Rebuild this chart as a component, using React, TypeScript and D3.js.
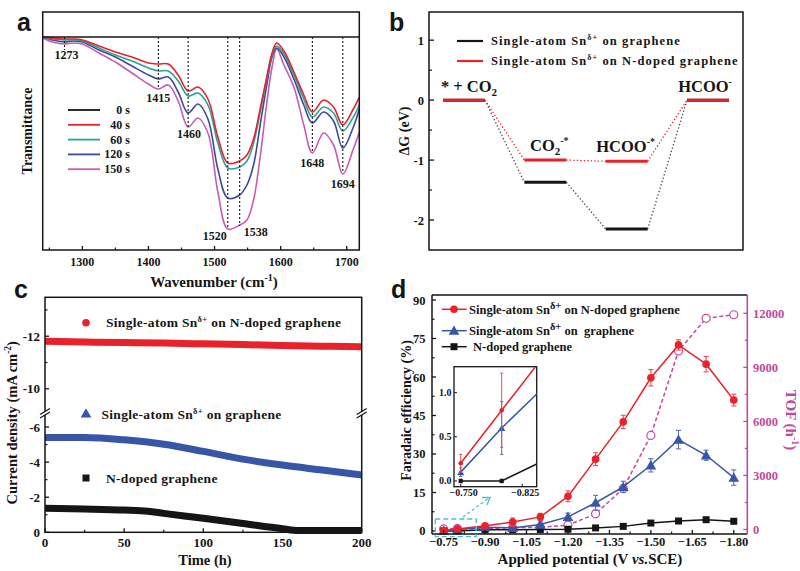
import React from "react";
import * as d3 from "d3";

// ---------------- Panel a: in-situ IR spectra ----------------
const wavenumbers = [1240,1255,1273,1285,1300,1325,1350,1375,1400,1415,1430,1445,1460,1475,1490,1505,1520,1538,1549,1559,1569,1579,1587,1594,1605,1620,1635,1648,1665,1680,1694,1710,1719];
const trans40s = [0,-1,-2,-2,-3,-9,-15,-20,-26,-27,-27,-38,-54,-50,-62,-100,-126,-124,-118,-102,-72,-40,-16,-6,-14,-35,-58,-75,-63,-70,-88,-72,-60];
const trans60s = [0,-2,-3,-3,-4,-11,-18,-24,-31,-34,-34,-44,-59,-56,-68,-106,-131,-130,-124,-106,-75,-42,-18,-9,-17,-38,-62,-80,-70,-76,-94,-80,-68];
const trans120s = [0,-3,-5,-4,-5,-13,-20,-29,-38,-42,-40,-55,-76,-67,-82,-132,-161,-158,-148,-128,-88,-48,-20,-11,-20,-42,-68,-86,-75,-84,-111,-90,-72];
const trans150s = [-1,-5,-7,-6,-7,-16,-25,-36,-47,-52,-48,-64,-90,-81,-96,-155,-192,-188,-183,-163,-120,-66,-30,-12,-28,-50,-88,-116,-96,-108,-137,-112,-95];
const wavenumbers0s = [1240, 1719];
const trans0s = [0, 0];
const spectraLabels = ["0 s", "40 s", "60 s", "120 s", "150 s"];
const peakWavenumbers = [1273, 1415, 1460, 1520, 1538, 1648, 1694];
const peakDepths = [-13, -51, -90, -191, -189, -116, -136];
const aTicks = [1300, 1400, 1500, 1600, 1700];

// ---------------- Panel b: free energy diagram ----------------
const bStates = ["IS", "CO2*", "HCOO*", "FS"];
const dGgraphene = [0, -1.37, -2.15, 0];
const dGNdoped = [0, -1.0, -1.02, 0];
const bTicks = [1, 0, -1, -2];
const bMinorTicks = [0.5, -0.5, -1.5];

// ---------------- Panel c: stability ----------------
const cTimeRed = [0, 25, 50, 75, 100, 125, 150, 175, 200];
const cRed = [-11.81, -11.78, -11.76, -11.74, -11.71, -11.68, -11.65, -11.62, -11.6];
const cTimeBlue = [0, 25, 50, 75, 100, 125, 150, 175, 200];
const cBlue = [-5.4, -5.4, -5.27, -5.02, -4.61, -4.17, -3.83, -3.55, -3.27];
const cTimeBlack = [0, 25, 50, 65, 75, 100, 125, 150, 160, 175, 200];
const cBlack = [-1.37, -1.33, -1.27, -1.2, -1.08, -0.8, -0.5, -0.2, -0.1, -0.1, -0.1];
const cTicksX = [0, 50, 100, 150, 200];
const cTicksLow = [0, -2, -4, -6];
const cTicksHigh = [-10, -12];

// ---------------- Panel d: Faradaic efficiency & TOF ----------------
const potentials = [-0.75, -0.8, -0.9, -1.0, -1.1, -1.2, -1.3, -1.4, -1.5, -1.6, -1.7, -1.8];
const feSnN = [0.2, 0.8, 2.0, 3.5, 5.5, 13.5, 28, 42.5, 59.7, 72.5, 65, 51];
const feSnNErr = [0.1, 0.42, 0.8, 1.6, 1.4, 2.1, 2.5, 2.6, 3.2, 2.0, 3.0, 2.3];
const feSn = [0.1, 0.6, 1.5, 1.2, 2.5, 5.5, 11, 17.2, 25.6, 35.6, 29.5, 20.8];
const feSnErr = [0.05, 0.3, 0.6, 0.8, 1.0, 1.5, 2.9, 2.2, 2.6, 3.6, 2.0, 3.0];
const feN = [0, 0, 0.45, 0.5, 0.6, 0.7, 1.2, 1.8, 3.1, 3.9, 4.4, 3.8];
const feNErr = [0.02, 0.02, 0.3, 0.3, 0.3, 0.3, 0.3, 0.4, 0.5, 0.6, 0.8, 1.0];
const tof = [30, 50, 40, 100, 130, 240, 870, 2270, 5220, 9910, 11720, 11920];
const dTicksX = [-0.75, -0.9, -1.05, -1.2, -1.35, -1.5, -1.65, -1.8];
const dTicksL = [0, 15, 30, 45, 60, 75, 90];
const dTicksR = [0, 3000, 6000, 9000, 12000];
const insetTicksX = [-0.75, -0.825];
const insetTicksY = [0, 0.5, 1.0];

// ---------------- styles ----------------
const SERIF = "'Liberation Serif','Times New Roman',serif";
const SANS = "'Liberation Sans',Arial,sans-serif";
const INK = "#151515";
const RED = "#e8212b";
const TEAL = "#2aa39b";
const NAVY = "#3b4b95";
const ORCHID = "#c65db3";
const BLUE = "#3856a8";
const MAGENTA = "#c2489c";
const CYAN = "#4dbfcf";

const A = { x0: 42.7, x1: 359.3, y0: 12, y1: 250 };
const B = { x0: 429, x1: 743, y0: 12, y1: 250 };
const C = { x0: 45, x1: 361.7, y0: 297.3, y1: 532.3, yBreak: 413.5 };
const D = { x0: 432, x1: 747.3, y0: 295, y1: 534 };
const IN = { x0: 454, x1: 536.7, y0: 366.7, y1: 486.7 };

const peakLabelOffsets = [[2, 9], [0, 14], [1, 11], [-13, 12], [16, 10], [0, 14], [0, 15]];

export default function App() {
  // ---- panel a ----
  const ax = d3.scaleLinear().domain([1240, 1719]).range([A.x0, A.x1]);
  const ay = d3.scaleLinear().domain([-213, 25]).range([A.y1, A.y0]);
  const aLine = d3.line<[number, number]>().x(d => ax(d[0])).y(d => ay(d[1])).curve(d3.curveCatmullRom.alpha(0.5));
  const aSeries = [
    { label: spectraLabels[0], color: INK, pts: d3.zip(wavenumbers0s, trans0s) },
    { label: spectraLabels[1], color: RED, pts: d3.zip(wavenumbers, trans40s) },
    { label: spectraLabels[2], color: TEAL, pts: d3.zip(wavenumbers, trans60s) },
    { label: spectraLabels[3], color: NAVY, pts: d3.zip(wavenumbers, trans120s) },
    { label: spectraLabels[4], color: ORCHID, pts: d3.zip(wavenumbers, trans150s) },
  ];
  const aMinor = d3.range(1250, 1719, 50).filter(v => v % 100 !== 0);

  // ---- panel b ----
  const bx = d3.scalePoint<string>().domain(bStates).range([B.x0, B.x1]).padding(0.43);
  const by = d3.scaleLinear().domain([-2.5, 1.47]).range([B.y1, B.y0]);
  const half = 21;
  const connectors = (levels: number[]) =>
    levels.slice(0, -1).map((v, i) => [
      [bx(bStates[i])! + half, by(v)],
      [bx(bStates[i + 1])! - half, by(levels[i + 1])],
    ]);

  // ---- panel c ----
  const cx = d3.scaleLinear().domain([0, 200]).range([C.x0, C.x1]);
  const cyLow = d3.scaleLinear().domain([0, -6.77]).range([C.y1, C.yBreak]);
  const cyHigh = d3.scaleLinear().domain([-9.06, -13.48]).range([C.yBreak, C.y0]);
  const cy = (v: number) => (v > -8 ? cyLow(v) : cyHigh(v));
  const cLine = d3.line<[number, number]>().x(d => cx(d[0])).y(d => cy(d[1])).curve(d3.curveMonotoneX);

  // ---- panel d ----
  const dx = d3.scaleLinear().domain([-0.708, -1.849]).range([D.x0, D.x1]);
  const dyL = d3.scaleLinear().domain([-1.17, 91.95]).range([D.y1, D.y0]);
  const dyR = d3.scaleLinear().domain([-250, 13015]).range([D.y1, D.y0]);
  const ix = d3.scaleLinear().domain([-0.7418, -0.8427]).range([IN.x0, IN.x1]);
  const iy = d3.scaleLinear().domain([-0.065, 1.294]).range([IN.y1, IN.y0]);
  const lineL = d3.line<number>().x((_, i) => dx(potentials[i])).y(d => dyL(d));
  const lineR = d3.line<number>().x((_, i) => dx(potentials[i])).y(d => dyR(d));
  const lineI = d3.line<number>().x((_, i) => ix(potentials[i])).y(d => iy(d));
  const tri = d3.symbol(d3.symbolTriangle, 50)()!;
  const triSmall = d3.symbol(d3.symbolTriangle, 22)()!;

  const dSeries = [
    { vals: feN, err: feNErr, color: INK, errColor: "#777", marker: "square" },
    { vals: feSn, err: feSnErr, color: BLUE, errColor: "#5a6fb5", marker: "triangle" },
    { vals: feSnN, err: feSnNErr, color: RED, errColor: "#e5505a", marker: "circle" },
  ];

  const marker = (kind: string, x: number, y: number, color: string, small = false, key?: any) => {
    const s = small ? 0.6 : 1;
    if (kind === "circle") return <circle key={key} cx={x} cy={y} r={3.8 * s} fill={color} />;
    if (kind === "square") return <rect key={key} x={x - 3.5 * s} y={y - 3.5 * s} width={7 * s} height={7 * s} fill={color} />;
    return <path key={key} d={small ? triSmall : tri} transform={`translate(${x},${y + 1})`} fill={color} />;
  };

  const txt = { fontFamily: SERIF, fontWeight: 700, fill: INK } as any;

  return (
    <div style={{ position: "absolute", left: 0, top: 0 }}>
      <svg width={800} height={571} viewBox="0 0 800 571" style={{ display: "block", background: "#fff" }}>
        <defs>
          <clipPath id="clipA"><rect x={A.x0} y={A.y0} width={A.x1 - A.x0} height={A.y1 - A.y0} /></clipPath>
          <clipPath id="clipIn"><rect x={IN.x0} y={IN.y0} width={IN.x1 - IN.x0} height={IN.y1 - IN.y0} /></clipPath>
        </defs>

        {/* ================= Panel a ================= */}
        <text x={17} y={31} fontFamily={SANS} fontWeight={700} fontSize={25} fill={INK}>a</text>
        <g clipPath="url(#clipA)">
          {aSeries.slice().reverse().map(s => (
            <path key={s.label} d={aLine(s.pts as any)!} fill="none" stroke={s.color} strokeWidth={1.6} />
          ))}
        </g>
        {peakWavenumbers.map((w, i) => (
          <g key={w}>
            <line x1={ax(w)} x2={ax(w)} y1={ay(0)} y2={ay(peakDepths[i])} stroke={INK} strokeWidth={1.1} strokeDasharray="2,2" />
            <text {...txt} fontSize={12} textAnchor="middle" x={ax(w) + peakLabelOffsets[i][0]} y={ay(peakDepths[i]) + peakLabelOffsets[i][1]}>{w}</text>
          </g>
        ))}
        <rect x={A.x0} y={A.y0} width={A.x1 - A.x0} height={A.y1 - A.y0} fill="none" stroke={INK} strokeWidth={1.5} />
        {aTicks.map(t => (
          <g key={t}>
            <line x1={ax(t)} x2={ax(t)} y1={A.y1} y2={A.y1 - 4} stroke={INK} strokeWidth={1.3} />
            <text {...txt} fontSize={12} textAnchor="middle" x={ax(t)} y={266}>{t}</text>
          </g>
        ))}
        {aMinor.map(t => (
          <line key={t} x1={ax(t)} x2={ax(t)} y1={A.y1} y2={A.y1 - 2.5} stroke={INK} strokeWidth={1.2} />
        ))}
        {aSeries.map((s, i) => (
          <g key={s.label}>
            <line x1={68} x2={100} y1={110 + i * 14.8} y2={110 + i * 14.8} stroke={s.color} strokeWidth={1.8} />
            <text {...txt} fontSize={12} textAnchor="end" x={130} y={114 + i * 14.8}>{s.label}</text>
          </g>
        ))}
        <text {...txt} fontSize={14} textAnchor="middle" transform={`translate(32,${(A.y0 + A.y1) / 2}) rotate(-90)`}>Transmittance</text>
        <text {...txt} fontSize={15} textAnchor="middle" x={214} y={287}>
          Wavenumber (cm<tspan fontSize={10} dy={-6}>-1</tspan><tspan dy={6}>)</tspan>
        </text>

        {/* ================= Panel b ================= */}
        <text x={389} y={31} fontFamily={SANS} fontWeight={700} fontSize={25} fill={INK}>b</text>
        <rect x={B.x0} y={B.y0} width={B.x1 - B.x0} height={B.y1 - B.y0} fill="none" stroke={INK} strokeWidth={1.5} />
        {bTicks.map(t => (
          <g key={t}>
            <line x1={B.x0} x2={B.x0 + 5} y1={by(t)} y2={by(t)} stroke={INK} strokeWidth={1.3} />
            <text {...txt} fontSize={12.5} textAnchor="end" x={424} y={by(t) + 4.5}>{t}</text>
          </g>
        ))}
        {bMinorTicks.map(t => (
          <line key={t} x1={B.x0} x2={B.x0 + 3} y1={by(t)} y2={by(t)} stroke={INK} strokeWidth={1.2} />
        ))}
        <text {...txt} fontSize={14} textAnchor="middle" transform={`translate(409,${(B.y0 + B.y1) / 2}) rotate(-90)`}>ΔG (eV)</text>
        {connectors(dGgraphene).map((c, i) => (
          <line key={"g" + i} x1={c[0][0]} y1={c[0][1]} x2={c[1][0]} y2={c[1][1]} stroke="#444" strokeWidth={1.3} strokeDasharray="1.3,2.2" />
        ))}
        {connectors(dGNdoped).map((c, i) => (
          <line key={"n" + i} x1={c[0][0]} y1={c[0][1]} x2={c[1][0]} y2={c[1][1]} stroke={RED} strokeWidth={1.3} strokeDasharray="1.3,2.2" />
        ))}
        {bStates.map((s, i) => (
          <g key={s}>
            <line x1={bx(s)! - half} x2={bx(s)! + half} y1={by(dGgraphene[i])} y2={by(dGgraphene[i])} stroke={INK} strokeWidth={3} />
            <line x1={bx(s)! - half} x2={bx(s)! + half} y1={by(dGNdoped[i])} y2={by(dGNdoped[i])} stroke={RED} strokeWidth={3} />
          </g>
        ))}
        <text {...txt} fontSize={16.5} textAnchor="middle" x={bx("IS")! + 5} y={by(0) - 8}>
          * + CO<tspan fontSize={11} dy={4}>2</tspan>
        </text>
        <text {...txt} fontSize={16.5} textAnchor="middle" x={bx("CO2*")! + 4} y={by(dGNdoped[1]) - 9}>
          CO<tspan fontSize={11} dy={4}>2</tspan><tspan fontSize={10} dy={-11}>-*</tspan>
        </text>
        <text {...txt} fontSize={16.5} textAnchor="middle" x={bx("HCOO*")! - 1} y={by(dGNdoped[2]) - 9}>
          HCOO<tspan fontSize={10} dy={-7}>-*</tspan>
        </text>
        <text {...txt} fontSize={16.5} textAnchor="middle" x={bx("FS")! - 3} y={by(0) - 8}>
          HCOO<tspan fontSize={10} dy={-7}>-</tspan>
        </text>
        {[INK, RED].map((col, i) => (
          <g key={col}>
            <line x1={457} x2={483} y1={41 + i * 20} y2={41 + i * 20} stroke={col} strokeWidth={2.2} />
            <text {...txt} fontSize={12.5} x={491} y={45 + i * 20} letterSpacing={1.1}>
              Single-atom Sn<tspan fontSize={8} dy={-5}>δ+</tspan><tspan dy={5}>{i === 0 ? " on graphene" : " on N-doped graphene"}</tspan>
            </text>
          </g>
        ))}

        {/* ================= Panel c ================= */}
        <text x={14} y={298} fontFamily={SANS} fontWeight={700} fontSize={25} fill={INK}>c</text>
        <path d={cLine(d3.zip(cTimeRed, cRed) as any)!} fill="none" stroke={RED} strokeWidth={7} />
        <path d={cLine(d3.zip(cTimeBlue, cBlue) as any)!} fill="none" stroke={BLUE} strokeWidth={7} />
        <path d={cLine(d3.zip(cTimeBlack, cBlack) as any)!} fill="none" stroke={INK} strokeWidth={7} />
        <rect x={C.x0} y={C.y0} width={C.x1 - C.x0} height={C.y1 - C.y0} fill="none" stroke={INK} strokeWidth={1.5} />
        {cTicksX.map(t => (
          <g key={t}>
            <line x1={cx(t)} x2={cx(t)} y1={C.y1} y2={C.y1 - 4} stroke={INK} strokeWidth={1.3} />
            <text {...txt} fontSize={13} textAnchor="middle" x={cx(t)} y={546.5}>{t}</text>
          </g>
        ))}
        {[25, 75, 125, 175].map(t => (
          <line key={t} x1={cx(t)} x2={cx(t)} y1={C.y1} y2={C.y1 - 2.5} stroke={INK} strokeWidth={1.2} />
        ))}
        {[...cTicksLow, ...cTicksHigh].map(t => (
          <g key={t}>
            <line x1={C.x0} x2={C.x0 + 4} y1={cy(t)} y2={cy(t)} stroke={INK} strokeWidth={1.3} />
            <text {...txt} fontSize={13} textAnchor="end" x={40} y={cy(t) + 4.5}>{t}</text>
          </g>
        ))}
        {[-1, -3, -5, -11, -13].map(t => (
          <line key={t} x1={C.x0} x2={C.x0 + 2.5} y1={cy(t)} y2={cy(t)} stroke={INK} strokeWidth={1.2} />
        ))}
        {[C.x0, C.x1].map(x => (
          <g key={x}>
            <rect x={x - 3} y={C.yBreak - 2} width={6} height={3.5} fill="#fff" />
            <line x1={x - 5} x2={x + 5} y1={C.yBreak + 1} y2={C.yBreak - 5} stroke={INK} strokeWidth={1.3} />
            <line x1={x - 5} x2={x + 5} y1={C.yBreak + 4.5} y2={C.yBreak - 1.5} stroke={INK} strokeWidth={1.3} />
          </g>
        ))}
        {marker("circle", 86, 322.7, RED)}
        <text {...txt} fontSize={13.5} letterSpacing={0.3} x={106} y={327}>
          Single-atom Sn<tspan fontSize={8.5} dy={-5}>δ+</tspan><tspan dy={5}> on N-doped graphene</tspan>
        </text>
        {marker("triangle", 86, 413.5, BLUE)}
        <text {...txt} fontSize={13.5} letterSpacing={0.3} x={101.5} y={418.5}>
          Single-atom Sn<tspan fontSize={8.5} dy={-5}>δ+</tspan><tspan dy={5}> on graphene</tspan>
        </text>
        {marker("square", 86, 478, INK)}
        <text {...txt} fontSize={13.5} letterSpacing={0.3} x={106} y={482.5}>N-doped graphene</text>
        <text {...txt} fontSize={14.5} textAnchor="middle" transform={`translate(17,${(C.y0 + C.y1) / 2 + 8}) rotate(-90)`}>
          Current density (mA cm<tspan fontSize={9.5} dy={-6}>-2</tspan><tspan dy={6}>)</tspan>
        </text>
        <text {...txt} fontSize={14.5} textAnchor="middle" x={205} y={565}>Time (h)</text>

        {/* ================= Panel d ================= */}
        <text x={391} y={298} fontFamily={SANS} fontWeight={700} fontSize={25} fill={INK}>d</text>
        <path d={lineR(tof)!} fill="none" stroke={MAGENTA} strokeWidth={1.5} strokeDasharray="4,2.5" />
        {tof.map((v, i) => (
          <circle key={i} cx={dx(potentials[i])} cy={dyR(v)} r={4} fill="#fff" stroke={MAGENTA} strokeWidth={1.2} />
        ))}
        {dSeries.map((s, si) => (
          <g key={si}>
            <path d={lineL(s.vals)!} fill="none" stroke={s.color} strokeWidth={1.5} />
            {s.vals.map((v, i) => {
              const x = dx(potentials[i]);
              return (
                <g key={i}>
                  <line x1={x} x2={x} y1={dyL(v - s.err[i])} y2={dyL(v + s.err[i])} stroke={s.errColor} strokeWidth={1.1} />
                  <line x1={x - 2.5} x2={x + 2.5} y1={dyL(v - s.err[i])} y2={dyL(v - s.err[i])} stroke={s.errColor} strokeWidth={1.1} />
                  <line x1={x - 2.5} x2={x + 2.5} y1={dyL(v + s.err[i])} y2={dyL(v + s.err[i])} stroke={s.errColor} strokeWidth={1.1} />
                  {marker(s.marker, x, dyL(v), s.color)}
                </g>
              );
            })}
          </g>
        ))}
        <line x1={D.x0} x2={D.x1} y1={D.y0} y2={D.y0} stroke={INK} strokeWidth={1.5} />
        <line x1={D.x0} x2={D.x1} y1={D.y1} y2={D.y1} stroke={INK} strokeWidth={1.5} />
        <line x1={D.x0} x2={D.x0} y1={D.y0} y2={D.y1} stroke={INK} strokeWidth={1.5} />
        <line x1={D.x1} x2={D.x1} y1={D.y0} y2={D.y1} stroke={MAGENTA} strokeWidth={1.6} />
        {dTicksX.map(t => (
          <g key={t}>
            <line x1={dx(t)} x2={dx(t)} y1={D.y1} y2={D.y1 - 4} stroke={INK} strokeWidth={1.3} />
            <text {...txt} fontSize={12.5} textAnchor="middle" x={dx(t)} y={546}>{d3.format(".2f")(t)}</text>
          </g>
        ))}
        {dTicksX.slice(0, -1).map(t => (
          <line key={t} x1={dx(t - 0.075)} x2={dx(t - 0.075)} y1={D.y1} y2={D.y1 - 2.5} stroke={INK} strokeWidth={1.2} />
        ))}
        {dTicksL.map(t => (
          <g key={t}>
            <line x1={D.x0} x2={D.x0 + 4} y1={dyL(t)} y2={dyL(t)} stroke={INK} strokeWidth={1.3} />
            <text {...txt} fontSize={12.5} textAnchor="end" x={425.5} y={dyL(t) + 4.5}>{t}</text>
          </g>
        ))}
        {dTicksL.slice(0, -1).map(t => (
          <line key={t} x1={D.x0} x2={D.x0 + 2.5} y1={dyL(t + 7.5)} y2={dyL(t + 7.5)} stroke={INK} strokeWidth={1.2} />
        ))}
        {dTicksR.map(t => (
          <g key={t}>
            <line x1={D.x1} x2={D.x1 - 4} y1={dyR(t)} y2={dyR(t)} stroke={MAGENTA} strokeWidth={1.3} />
            <text {...txt} fill={MAGENTA} fontSize={12.5} x={753} y={dyR(t) + 4.5}>{t}</text>
          </g>
        ))}
        {dTicksR.slice(0, -1).map(t => (
          <line key={t} x1={D.x1} x2={D.x1 - 2.5} y1={dyR(t + 1500)} y2={dyR(t + 1500)} stroke={MAGENTA} strokeWidth={1.2} />
        ))}
        <text {...txt} fontSize={14} textAnchor="middle" transform={`translate(411,${(D.y0 + D.y1) / 2 - 4}) rotate(-90)`}>Faradaic efficiency (%)</text>
        <text {...txt} fill={MAGENTA} fontSize={15} textAnchor="middle" transform={`translate(786,420) rotate(90)`}>
          TOF (h<tspan fontSize={10} dy={-6}>-1</tspan><tspan dy={6}>)</tspan>
        </text>
        <text {...txt} fontSize={15} textAnchor="middle" x={590} y={564}>
          Applied potential (V <tspan fontStyle="italic">vs.</tspan>SCE)
        </text>
        {[
          { c: RED, m: "circle", y: 309.3, label: " on N-doped graphene", sn: true },
          { c: BLUE, m: "triangle", y: 330.7, label: " on  graphene", sn: true },
          { c: INK, m: "square", y: 346.7, label: "N-doped graphene", sn: false },
        ].map(l => (
          <g key={l.y}>
            <line x1={441.7} x2={466.7} y1={l.y} y2={l.y} stroke={l.c} strokeWidth={1.5} />
            {marker(l.m, 454, l.y, l.c)}
            {l.sn ? (
              <text {...txt} fontSize={12.5} x={469} y={l.y + 4.5} style={{ whiteSpace: "pre" }}>
                Single-atom Sn<tspan fontSize={10.5} dy={-5}>δ+</tspan><tspan dy={5}>{l.label}</tspan>
              </text>
            ) : (
              <text {...txt} fontSize={12.5} x={473} y={l.y + 4.5}>{l.label}</text>
            )}
          </g>
        ))}
        <rect x={dx(-0.72)} y={dyL(4.7)} width={dx(-0.868) - dx(-0.72)} height={dyL(-2.2) - dyL(4.7)} fill="none" stroke={CYAN} strokeWidth={1.4} strokeDasharray="5,3" />
        <line x1={463} y1={517} x2={489} y2={498} stroke={CYAN} strokeWidth={1.4} strokeDasharray="3,2.5" />
        <path d="M482,497.5 L490,497.5 L487,505" fill="none" stroke={CYAN} strokeWidth={1.4} />
        <rect x={IN.x0} y={IN.y0} width={IN.x1 - IN.x0} height={IN.y1 - IN.y0} fill="#fff" stroke={INK} strokeWidth={1.3} />
        <g clipPath="url(#clipIn)">
          {dSeries.map((s, si) => (
            <g key={si}>
              <path d={lineI(s.vals)!} fill="none" stroke={s.color} strokeWidth={1.5} />
              {s.vals.slice(0, 2).map((v, i) => {
                const x = ix(potentials[i]);
                return (
                  <g key={i}>
                    <line x1={x} x2={x} y1={iy(v - s.err[i])} y2={iy(v + s.err[i])} stroke={s.errColor} strokeWidth={1} />
                    <line x1={x - 1.5} x2={x + 1.5} y1={iy(v + s.err[i])} y2={iy(v + s.err[i])} stroke={s.errColor} strokeWidth={1} />
                    <line x1={x - 1.5} x2={x + 1.5} y1={iy(v - s.err[i])} y2={iy(v - s.err[i])} stroke={s.errColor} strokeWidth={1} />
                    {marker(s.marker, x, iy(v), s.color, true)}
                  </g>
                );
              })}
            </g>
          ))}
        </g>
        {insetTicksY.map(t => (
          <g key={t}>
            <line x1={IN.x0} x2={IN.x0 + 3} y1={iy(t)} y2={iy(t)} stroke={INK} strokeWidth={1} />
            <text {...txt} fontSize={10} textAnchor="end" x={IN.x0 - 2.5} y={iy(t) + 3.5}>{d3.format(".1f")(t)}</text>
          </g>
        ))}
        {insetTicksX.map(t => (
          <g key={t}>
            <line x1={ix(t)} x2={ix(t)} y1={IN.y1} y2={IN.y1 - 3} stroke={INK} strokeWidth={1} />
            <text {...txt} fontSize={10} textAnchor="middle" x={ix(t) + 3} y={IN.y1 + 9.5}>{d3.format(".3f")(t)}</text>
          </g>
        ))}
      </svg>
    </div>
  );
}
